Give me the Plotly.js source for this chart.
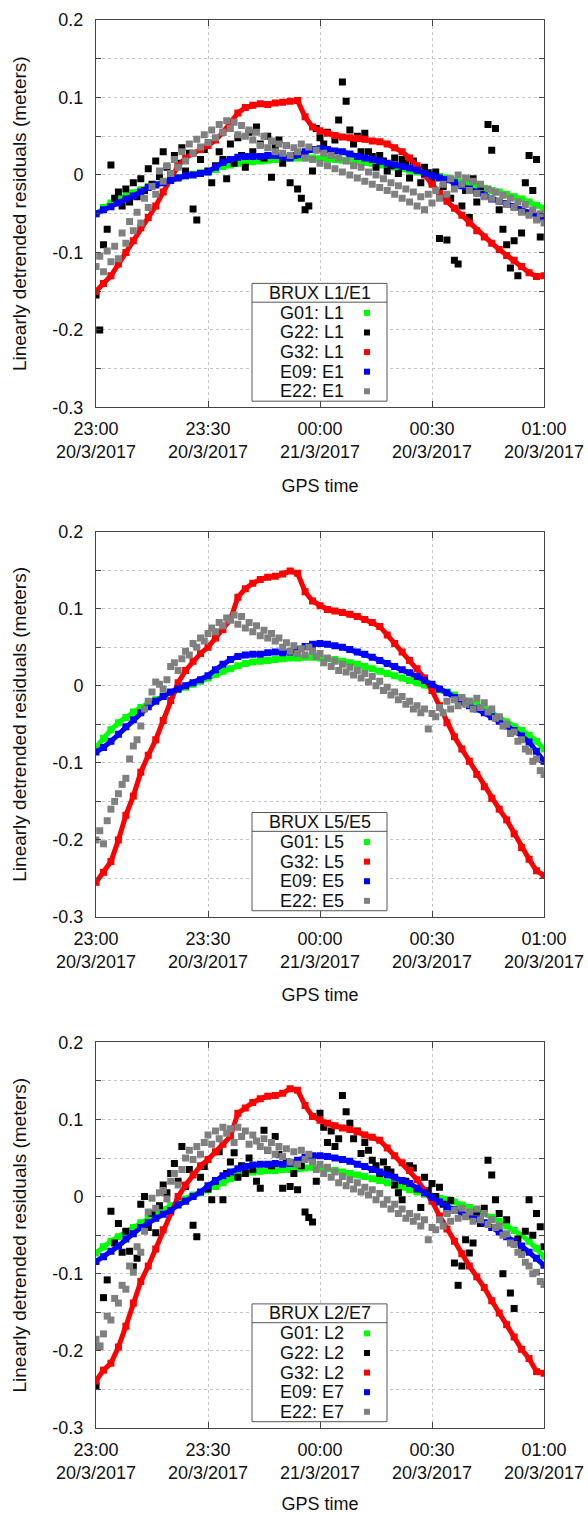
<!DOCTYPE html>
<html><head><meta charset="utf-8">
<script src="https://cdn.plot.ly/plotly-3.0.1.min.js"></script>
<style>html,body{margin:0;padding:0;background:#fff}</style>
</head><body><div id="chart" style="width:588px;height:1514px"></div>
<script>
// ---------- time grids (minutes after 23:00 GPS time) ----------
const tSmooth = [0,2,4,6,8,10,12,14,16,18,20,22,24,26,28,30,32,34,36,38,40,42,44,46,48,50,52,54,56,58,60,62,64,66,68,70,72,74,76,78,80,82,84,86,88,90,92,94,96,98,100,102,104,106,108,110,112,114,116,118,120];
const tScatter = [0,1,2,3,4,5,6,7,8,9,10,11,12,13,14,15,16,17,18,19,20,21,22,23,24,25,26,27,28,29,30,31,32,33,34,35,36,37,38,39,40,41,42,43,44,45,46,47,48,49,50,51,52,53,54,55,56,57,58,59,60,61,62,63,64,65,66,67,68,69,70,71,72,73,74,75,76,77,78,79,80,81,82,83,84,85,86,87,88,89,90,91,92,93,94,95,96,97,98,99,100,101,102,103,104,105,106,107,108,109,110,111,112,113,114,115,116,117,118,119,120];

// ---------- tick labels ----------
const xTickVals = [0,30,60,90,120];
const xTickTimes = ['23:00','23:30','00:00','00:30','01:00'];
const xTickDates = ['20/3/2017','20/3/2017','21/3/2017','20/3/2017','20/3/2017'];
const yTickVals = [-0.3,-0.25,-0.2,-0.15,-0.1,-0.05,0,0.05,0.1,0.15,0.2];
const yTickText = ['-0.3','','-0.2','','-0.1','','0','','0.1','','0.2'];

// ---------- Panel 1: BRUX L1/E1 ----------
const p1_G01 = [-0.050,-0.042,-0.036,-0.031,-0.027,-0.023,-0.019,-0.015,-0.012,-0.009,
 -0.006,-0.003,-0.001,0.001,0.003,0.004,0.007,0.011,0.013,0.015,
 0.016,0.017,0.018,0.019,0.020,0.021,0.022,0.022,0.022,0.022,
 0.021,0.021,0.020,0.019,0.018,0.017,0.016,0.015,0.013,0.012,
 0.010,0.008,0.006,0.004,0.002,0.000,-0.002,-0.004,-0.007,-0.009,
 -0.012,-0.014,-0.017,-0.020,-0.022,-0.025,-0.028,-0.031,-0.035,-0.039,
 -0.043];
const p1_G22 = [-0.155,-0.200,-0.090,-0.070,0.013,-0.030,-0.022,-0.040,-0.018,-0.035,
 -0.010,-0.028,-0.005,-0.020,0.008,-0.012,0.018,-0.002,0.030,0.010,
 0.002,0.025,0.015,0.035,0.005,0.028,-0.044,-0.058,0.020,0.033,
 0.005,-0.010,0.012,0.030,0.020,-0.005,0.040,0.015,0.048,0.025,
 0.010,0.055,0.030,0.062,0.040,0.022,0.050,-0.003,0.035,0.045,
 0.015,0.038,-0.010,0.025,-0.018,-0.030,-0.045,-0.040,0.005,0.060,
 0.048,0.040,0.055,0.030,0.045,0.071,0.120,0.095,0.058,0.040,
 0.050,0.030,0.054,0.030,0.024,0.010,0.025,0.018,0.005,0.012,
 0.022,0.002,0.020,0.015,-0.004,0.018,0.008,-0.010,0.010,0.003,
 -0.008,0.004,-0.082,-0.015,-0.084,-0.030,-0.110,-0.115,-0.040,-0.020,
 -0.055,-0.005,-0.035,-0.015,-0.025,0.065,0.032,0.060,-0.045,-0.070,
 -0.090,-0.120,-0.085,-0.130,-0.075,-0.010,0.025,-0.020,0.020,-0.080,
 -0.055];
const p1_G32 = [-0.150,-0.140,-0.130,-0.115,-0.100,-0.085,-0.068,-0.055,-0.040,-0.022,
 -0.005,0.012,0.022,0.028,0.033,0.038,0.045,0.055,0.068,0.080,
 0.087,0.090,0.092,0.091,0.093,0.094,0.095,0.096,0.075,0.062,
 0.057,0.054,0.051,0.049,0.048,0.047,0.046,0.044,0.043,0.040,
 0.035,0.030,0.022,0.012,0.000,-0.012,-0.024,-0.034,-0.043,-0.052,
 -0.062,-0.072,-0.080,-0.088,-0.096,-0.104,-0.110,-0.118,-0.126,-0.131,
 -0.130];
const p1_E09 = [-0.050,-0.045,-0.041,-0.036,-0.031,-0.027,-0.022,-0.016,-0.013,-0.010,
 -0.007,-0.004,-0.001,0.000,0.002,0.004,0.010,0.016,0.020,0.023,
 0.024,0.024,0.024,0.025,0.025,0.023,0.022,0.026,0.030,0.033,
 0.034,0.033,0.031,0.030,0.027,0.024,0.022,0.020,0.018,0.015,
 0.013,0.011,0.009,0.006,0.002,-0.001,-0.004,-0.006,-0.010,-0.014,
 -0.018,-0.022,-0.026,-0.031,-0.034,-0.037,-0.041,-0.045,-0.049,-0.053,
 -0.056];
const p1_E22 = [-0.118,-0.105,-0.125,-0.098,-0.112,-0.092,-0.108,-0.075,-0.088,-0.060,
 -0.072,-0.048,-0.062,-0.030,-0.042,-0.015,-0.025,0.005,-0.008,0.012,
 0.002,0.020,0.010,0.030,0.018,0.040,0.028,0.046,0.036,0.052,
 0.042,0.058,0.048,0.065,0.055,0.070,0.060,0.068,0.052,0.064,
 0.050,0.058,0.045,0.055,0.038,0.050,0.035,0.044,0.030,0.040,
 0.028,0.038,0.025,0.035,0.030,0.040,0.022,0.036,0.020,0.032,
 0.015,0.028,0.012,0.025,0.008,0.022,0.004,0.018,0.000,0.012,
 -0.004,0.010,-0.008,0.004,-0.012,0.000,-0.016,-0.005,-0.020,-0.010,
 -0.025,-0.014,-0.030,-0.018,-0.035,-0.022,-0.040,-0.028,-0.045,-0.025,
 -0.036,-0.020,-0.030,-0.012,-0.025,-0.005,-0.018,0.000,-0.012,-0.004,
 -0.020,-0.008,-0.024,-0.012,-0.028,-0.018,-0.030,-0.022,-0.034,-0.026,
 -0.038,-0.030,-0.042,-0.035,-0.048,-0.038,-0.052,-0.045,-0.058,-0.050,
 -0.062];

// ---------- Panel 2: BRUX L5/E5 ----------
const p2_G01 = [-0.080,-0.068,-0.057,-0.048,-0.041,-0.034,-0.028,-0.023,-0.018,-0.013,
 -0.009,-0.005,-0.002,0.002,0.006,0.010,0.015,0.019,0.022,0.026,
 0.029,0.031,0.032,0.033,0.034,0.035,0.036,0.036,0.037,0.037,
 0.036,0.035,0.034,0.032,0.030,0.028,0.025,0.022,0.019,0.016,
 0.013,0.010,0.007,0.004,0.001,-0.002,-0.005,-0.008,-0.012,-0.016,
 -0.020,-0.024,-0.029,-0.035,-0.041,-0.047,-0.053,-0.058,-0.064,-0.072,
 -0.082];
const p2_G32 = [-0.255,-0.242,-0.228,-0.200,-0.168,-0.143,-0.112,-0.090,-0.070,-0.045,
 -0.019,0.004,0.020,0.032,0.042,0.050,0.062,0.073,0.086,0.115,
 0.126,0.133,0.138,0.141,0.142,0.145,0.149,0.146,0.122,0.110,
 0.104,0.099,0.097,0.095,0.093,0.090,0.086,0.082,0.077,0.066,
 0.055,0.044,0.033,0.022,0.010,-0.006,-0.026,-0.048,-0.066,-0.082,
 -0.098,-0.115,-0.131,-0.146,-0.160,-0.174,-0.192,-0.210,-0.225,-0.240,
 -0.246];
const p2_E09 = [-0.086,-0.080,-0.072,-0.063,-0.053,-0.044,-0.035,-0.027,-0.020,-0.014,
 -0.008,-0.004,0.000,0.004,0.008,0.013,0.021,0.028,0.034,0.038,
 0.040,0.041,0.041,0.043,0.044,0.043,0.044,0.047,0.051,0.054,
 0.055,0.054,0.052,0.050,0.047,0.044,0.041,0.037,0.033,0.029,
 0.025,0.021,0.017,0.012,0.007,0.002,-0.004,-0.009,-0.015,-0.021,
 -0.026,-0.030,-0.035,-0.040,-0.046,-0.052,-0.058,-0.065,-0.073,-0.085,
 -0.098];
const p2_E22 = [-0.200,-0.188,-0.205,-0.175,-0.160,-0.150,-0.140,-0.128,-0.120,-0.095,
 -0.078,-0.070,-0.052,-0.030,-0.020,-0.008,0.005,0.002,-0.004,0.008,
 0.025,0.030,0.020,0.035,0.045,0.040,0.055,0.050,0.062,0.058,
 0.068,0.075,0.070,0.082,0.078,0.088,0.085,0.092,0.080,0.090,
 0.075,0.082,0.070,0.078,0.065,0.072,0.062,0.068,0.058,0.062,
 0.050,0.056,0.045,0.052,0.042,0.048,0.040,0.050,0.045,0.038,
 0.042,0.030,0.036,0.025,0.032,0.020,0.028,0.018,0.024,0.014,
 0.020,0.010,0.016,0.005,0.012,0.000,0.006,-0.006,-0.002,-0.012,
 -0.008,-0.018,-0.014,-0.024,-0.020,-0.030,-0.026,-0.035,-0.030,-0.056,
 -0.036,-0.040,-0.028,-0.035,-0.020,-0.030,-0.018,-0.026,-0.015,-0.024,
 -0.020,-0.030,-0.016,-0.028,-0.022,-0.034,-0.030,-0.042,-0.040,-0.052,
 -0.050,-0.062,-0.060,-0.072,-0.070,-0.082,-0.085,-0.098,-0.095,-0.110,
 -0.115];

// ---------- Panel 3: BRUX L2/E7 ----------
const p3_G01 = [-0.073,-0.065,-0.058,-0.052,-0.046,-0.040,-0.034,-0.028,-0.022,-0.017,
 -0.012,-0.007,-0.003,0.002,0.005,0.009,0.013,0.018,0.023,0.027,
 0.030,0.032,0.033,0.034,0.034,0.035,0.035,0.036,0.037,0.038,
 0.037,0.036,0.034,0.032,0.030,0.028,0.026,0.023,0.021,0.018,
 0.015,0.012,0.009,0.006,0.003,0.000,-0.002,-0.004,-0.007,-0.011,
 -0.014,-0.018,-0.022,-0.027,-0.032,-0.038,-0.044,-0.050,-0.058,-0.067,
 -0.078];
const p3_G22 = [-0.246,-0.194,-0.131,-0.108,-0.019,-0.060,-0.035,-0.072,-0.045,-0.071,
 -0.091,-0.080,-0.010,0.000,-0.040,-0.022,-0.047,-0.012,0.015,0.005,
 0.030,0.043,0.020,0.065,0.013,0.035,-0.037,-0.052,0.025,0.039,
 0.010,-0.004,0.020,0.058,-0.004,0.030,0.045,0.057,0.025,0.040,
 0.030,0.050,0.035,0.020,0.011,0.086,0.060,0.040,0.078,0.055,
 0.011,0.045,0.013,0.030,0.009,0.040,-0.020,-0.027,-0.033,0.020,
 0.108,0.090,0.070,0.085,0.065,0.075,0.131,0.110,0.095,0.075,
 0.085,0.056,0.070,0.060,0.047,0.040,0.030,0.045,0.035,0.032,
 0.015,0.005,-0.004,0.020,0.040,0.037,0.010,-0.014,0.025,0.008,
 0.017,0.000,0.012,-0.010,-0.020,-0.005,-0.086,-0.115,-0.090,-0.056,
 -0.073,-0.060,-0.020,-0.035,-0.015,0.047,0.028,-0.004,-0.022,-0.100,
 -0.030,-0.125,-0.145,-0.055,-0.068,-0.045,-0.004,-0.050,-0.022,-0.039,
 -0.065];
const p3_G32 = [-0.239,-0.225,-0.216,-0.195,-0.168,-0.138,-0.110,-0.090,-0.068,-0.043,
 -0.020,0.000,0.015,0.028,0.040,0.048,0.058,0.068,0.078,0.108,
 0.115,0.122,0.127,0.130,0.131,0.134,0.140,0.138,0.118,0.104,
 0.099,0.095,0.092,0.089,0.087,0.084,0.080,0.077,0.073,0.063,
 0.053,0.044,0.034,0.022,0.008,-0.006,-0.025,-0.042,-0.058,-0.074,
 -0.090,-0.104,-0.118,-0.135,-0.151,-0.166,-0.182,-0.198,-0.210,-0.227,
 -0.229];
const p3_E09 = [-0.084,-0.078,-0.071,-0.064,-0.055,-0.048,-0.040,-0.034,-0.028,-0.023,
 -0.018,-0.011,-0.006,0.000,0.006,0.014,0.021,0.027,0.032,0.036,
 0.039,0.041,0.042,0.042,0.043,0.042,0.043,0.047,0.051,0.053,
 0.053,0.052,0.050,0.048,0.046,0.042,0.039,0.035,0.032,0.028,
 0.025,0.021,0.017,0.011,0.005,-0.001,-0.007,-0.013,-0.017,-0.021,
 -0.025,-0.029,-0.034,-0.040,-0.046,-0.052,-0.058,-0.064,-0.072,-0.080,
 -0.089];
const p3_E22 = [-0.185,-0.194,-0.178,-0.155,-0.160,-0.132,-0.138,-0.115,-0.120,-0.090,
 -0.098,-0.065,-0.072,-0.045,-0.020,-0.002,-0.015,0.005,0.008,-0.003,
 0.020,0.030,0.015,0.035,0.050,0.060,0.048,0.065,0.055,0.070,
 0.080,0.068,0.085,0.075,0.090,0.082,0.088,0.070,0.090,0.078,
 0.085,0.068,0.080,0.072,0.065,0.075,0.060,0.070,0.055,0.065,
 0.052,0.062,0.045,0.058,0.042,0.060,0.048,0.055,0.045,0.035,
 0.042,0.030,0.038,0.025,0.032,0.018,0.026,0.014,0.022,0.010,
 0.018,0.006,0.012,0.002,0.009,-0.004,0.004,-0.010,-0.004,-0.016,
 -0.010,-0.022,-0.016,-0.028,-0.022,-0.032,-0.026,-0.038,-0.030,-0.056,
 -0.040,-0.043,-0.030,-0.038,-0.022,-0.032,-0.018,-0.028,-0.015,-0.026,
 -0.020,-0.032,-0.016,-0.030,-0.022,-0.036,-0.030,-0.040,-0.038,-0.050,
 -0.048,-0.060,-0.062,-0.072,-0.075,-0.085,-0.090,-0.100,-0.098,-0.110,
 -0.114];

// ---------- series / panel descriptions ----------
const COL = {G01:'#00ff00', G22:'#000000', G32:'#ff0000', E09:'#0000ff', E22:'#808080'};
const legendTitles = ['BRUX L1/E1','BRUX L5/E5','BRUX L2/E7'];
const panels = [
  [ {name:'G01: L1', c:COL.G01, x:tSmooth, y:p1_G01, smooth:true},
    {name:'G22: L1', c:COL.G22, x:tScatter, y:p1_G22},
    {name:'G32: L1', c:COL.G32, x:tSmooth, y:p1_G32, smooth:true},
    {name:'E09: E1', c:COL.E09, x:tSmooth, y:p1_E09, smooth:true},
    {name:'E22: E1', c:COL.E22, x:tScatter, y:p1_E22} ],
  [ {name:'G01: L5', c:COL.G01, x:tSmooth, y:p2_G01, smooth:true},
    {name:'G32: L5', c:COL.G32, x:tSmooth, y:p2_G32, smooth:true},
    {name:'E09: E5', c:COL.E09, x:tSmooth, y:p2_E09, smooth:true},
    {name:'E22: E5', c:COL.E22, x:tScatter, y:p2_E22} ],
  [ {name:'G01: L2', c:COL.G01, x:tSmooth, y:p3_G01, smooth:true},
    {name:'G22: L2', c:COL.G22, x:tScatter, y:p3_G22},
    {name:'G32: L2', c:COL.G32, x:tSmooth, y:p3_G32, smooth:true},
    {name:'E09: E7', c:COL.E09, x:tSmooth, y:p3_E09, smooth:true},
    {name:'E22: E7', c:COL.E22, x:tScatter, y:p3_E22} ]
];

// ---------- layout geometry ----------
const FONT = 'Liberation Sans, Arial, Helvetica, sans-serif';
const W = 588, Hh = 1514, M = {l:96, r:44, t:20, b:86};
const domains = [[0.7248,1],[0.3629,0.6366],[0,0.2739]];
const plotH = Hh - M.t - M.b, plotW = W - M.l - M.r;
const xTickLabels = xTickTimes.map((t, j) => t + '<br>' + xTickDates[j]);

const traces = [];
const layout = {
  width:W, height:Hh, margin:M, paper_bgcolor:'#fff', plot_bgcolor:'#fff',
  showlegend:false, shapes:[], annotations:[], font:{family:FONT, color:'#111'}
};

panels.forEach((series, i) => {
  const k = i + 1;
  const xa = k === 1 ? 'x' : 'x' + k, ya = k === 1 ? 'y' : 'y' + k;
  const xk = k === 1 ? 'xaxis' : 'xaxis' + k, yk = k === 1 ? 'yaxis' : 'yaxis' + k;
  const dk = 'xaxis' + (k + 3), da = 'x' + (k + 3);
  series.forEach(s => {
    traces.push({
      type:'scatter', x:s.x, y:s.y, xaxis:xa, yaxis:ya, name:s.name,
      mode: s.smooth ? 'lines+markers' : 'markers',
      line:{color:s.c, width:5},
      marker:{symbol:'square', size:7, color:s.c, line:{width:0}},
      hoverinfo:'skip'
    });
  });
  // empty trace so the tick-label axis (time + date rows) gets drawn
  traces.push({type:'scatter', x:[], y:[], xaxis:da, yaxis:ya, mode:'markers', hoverinfo:'skip', showlegend:false});
  // frame axis: inside ticks, grid, border
  layout[xk] = {
    domain:[0,1], anchor:ya, range:[0,120], tickmode:'array', tickvals:xTickVals, ticktext:xTickTimes,
    ticks:'inside', ticklen:6, tickcolor:'#444', mirror:'ticks', showline:true, linecolor:'#444', linewidth:1,
    showgrid:true, gridcolor:'#c4c4c4', griddash:'dot', gridwidth:1, zeroline:false,
    showticklabels:false, automargin:false
  };
  // label axis: two-row tick labels and the axis title
  layout[dk] = {
    overlaying:xa, anchor:ya, side:'bottom', range:[0,120], tickmode:'array', tickvals:xTickVals, ticktext:xTickLabels,
    ticks:'outside', ticklen:5, tickcolor:'rgba(0,0,0,0)', showline:false, showgrid:false, zeroline:false,
    tickfont:{family:FONT, size:18, color:'#111'}, automargin:false,
    title:{text:'GPS time', font:{family:FONT, size:18, color:'#111'}, standoff:17}
  };
  layout[yk] = {
    domain:domains[i], anchor:xa, range:[-0.3,0.2], tickmode:'array', tickvals:yTickVals, ticktext:yTickText,
    ticks:'inside', ticklen:5, tickcolor:'#444', mirror:'ticks', showline:true, linecolor:'#444', linewidth:1,
    showgrid:true, gridcolor:'#c4c4c4', griddash:'dot', gridwidth:1, zeroline:false,
    tickfont:{family:FONT, size:18, color:'#111'}, ticklabelstandoff:8, automargin:false,
    title:{text:'Linearly detrended residuals (meters)', font:{family:FONT, size:19, color:'#111'}, standoff:20}
  };

  // ----- key box (gnuplot style: label then sample square) -----
  const H = (domains[i][1] - domains[i][0]) * plotH;
  const xr = xa + ' domain', yr = ya + ' domain';
  const fx = v => v / plotW, fy = v => v / H;
  const n = series.length;
  const first = 16.2 + (n - 1) * 19.6;
  layout.shapes.push({type:'rect', xref:xr, yref:yr, x0:fx(156), x1:fx(291), y0:fy(6.3), y1:fy(first + 29.5),
    line:{color:'#555', width:1}, fillcolor:'#fff', layer:'above'});
  layout.shapes.push({type:'line', xref:xr, yref:yr, x0:fx(156), x1:fx(291), y0:fy(first + 10.7), y1:fy(first + 10.7),
    line:{color:'#555', width:1}, layer:'above'});
  layout.annotations.push({xref:xr, yref:yr, x:fx(223.5), y:fy(first + 20.3), text:legendTitles[i],
    showarrow:false, xanchor:'center', yanchor:'middle', font:{family:FONT, size:18, color:'#111'}});
  series.forEach((s, j) => {
    const yy = first - j * 19.6;
    layout.annotations.push({xref:xr, yref:yr, x:fx(249.7), y:fy(yy), text:s.name,
      showarrow:false, xanchor:'right', yanchor:'middle', font:{family:FONT, size:18, color:'#111'}});
    layout.shapes.push({type:'rect', xref:xr, yref:yr, x0:fx(268), x1:fx(274), y0:fy(yy - 3), y1:fy(yy + 3),
      line:{width:0}, fillcolor:s.c, layer:'above'});
  });
});

Plotly.newPlot('chart', traces, layout, {staticPlot:true, displayModeBar:false});
</script>
</body></html>
